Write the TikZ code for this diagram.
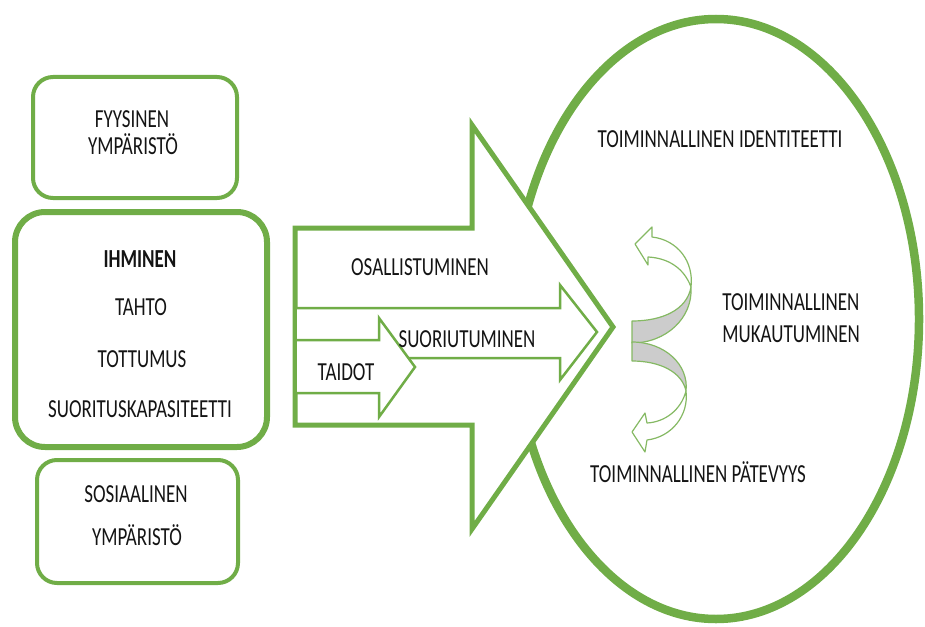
\documentclass[tikz,border=0pt]{standalone}
\usepackage{fontspec}
\setmainfont{Carlito}[FakeStretch=0.73]
\definecolor{grn}{RGB}{112,173,71}
\definecolor{ribbon}{RGB}{204,204,204}
\definecolor{ink}{RGB}{20,20,20}
\begin{document}
\begin{tikzpicture}[x=0.5pt,y=-0.5pt,
  txt/.style={font=\fontsize{13}{15}\selectfont, text=ink, inner sep=0pt, anchor=base},
  txtl/.style={txt, anchor=base west},
  sbox/.style={draw=grn, line width=2pt, rounded corners=10pt, fill=white, inner sep=0pt},
  mbox/.style={draw=grn, line width=3pt, rounded corners=15pt, fill=white, inner sep=0pt},
  bigarrow/.style={draw=grn, line width=2.5pt, fill=white, line join=miter},
  thinarrow/.style={draw=grn, line width=1.25pt, fill=white, line join=miter},
  curvearrow/.style={draw=grn!85, line width=0.6pt, line join=round},
  ellipseline/.style={draw=grn, line width=4.25pt}]
\useasboundingbox (0,0) rectangle (925,626);

% big ellipse
\draw[ellipseline] (716,319) ellipse [x radius=101.5pt, y radius=150pt];

% big arrow
\draw[bigarrow] (295,228) -- (472,228) -- (472,125) -- (613,327) -- (472,529) -- (472,425) -- (295,425) -- cycle;

% inner arrows
\draw[thinarrow] (297,308) -- (560,308) -- (560,285) -- (597,332) -- (560,380) -- (560,358) -- (297,358);
\draw[thinarrow] (297,340) -- (379,340) -- (379,318) -- (415,367) -- (379,417) -- (379,393) -- (297,393);

% curved arrows (upper)
\filldraw[curvearrow, fill=ribbon] (632,321) .. controls (662,321) and (687,310) .. (691,287)
   .. controls (693,318) and (666,343) .. (632,343) -- cycle;
\filldraw[curvearrow, fill=white] (691,287) .. controls (694,262) and (678,240) .. (652,237)
   -- (652,227) -- (635,244) -- (648,265) -- (648,257)
   .. controls (668,258) and (684,268) .. (691,287) -- cycle;
% curved arrows (lower)
\filldraw[curvearrow, fill=ribbon] (632,361) .. controls (660,361) and (682,372) .. (686,391)
   .. controls (689,365) and (665,342) .. (632,342) -- cycle;
\filldraw[curvearrow, fill=white] (686,391) .. controls (689,415) and (672,437) .. (647,440)
   -- (645,452) -- (632,432) -- (645,413) -- (647,423)
   .. controls (665,422) and (681,410) .. (686,391) -- cycle;

% left boxes
\node[sbox, minimum width=102pt, minimum height=60.5pt] (fyys) at (135,137.5) {};
\node[mbox, minimum width=126pt, minimum height=117.5pt] (ihm) at (141,329.5) {};
\node[sbox, minimum width=100.5pt, minimum height=61.5pt] (sos) at (137.5,521.5) {};

% texts
\node[txt] (t1) at (132,127) {FYYSINEN};
\node[txt] (t2) at (133,155) {YMPÄRISTÖ};
\node[txt, font=\fontsize{13}{15}\selectfont\bfseries] (t3) at (140,267) {IHMINEN};
\node[txt] (t4) at (141,315) {TAHTO};
\node[txt] (t5) at (142,367) {TOTTUMUS};
\node[txt] (t6) at (140,417) {SUORITUSKAPASITEETTI};
\node[txt] (t7) at (136,502) {SOSIAALINEN};
\node[txt] (t8) at (137,545) {YMPÄRISTÖ};
\node[txt] (t9) at (420,275) {OSALLISTUMINEN};
\node[txt] (t10) at (467,347) {SUORIUTUMINEN};
\node[txt] (t11) at (346,380) {TAIDOT};
\node[txt] (t12) at (720,148) {TOIMINNALLINEN IDENTITEETTI};
\node[txtl] (t13) at (722,310) {TOIMINNALLINEN};
\node[txtl] (t14) at (722,342) {MUKAUTUMINEN};
\node[txt] (t15) at (698,482) {TOIMINNALLINEN PÄTEVYYS};
\end{tikzpicture}
\end{document}
